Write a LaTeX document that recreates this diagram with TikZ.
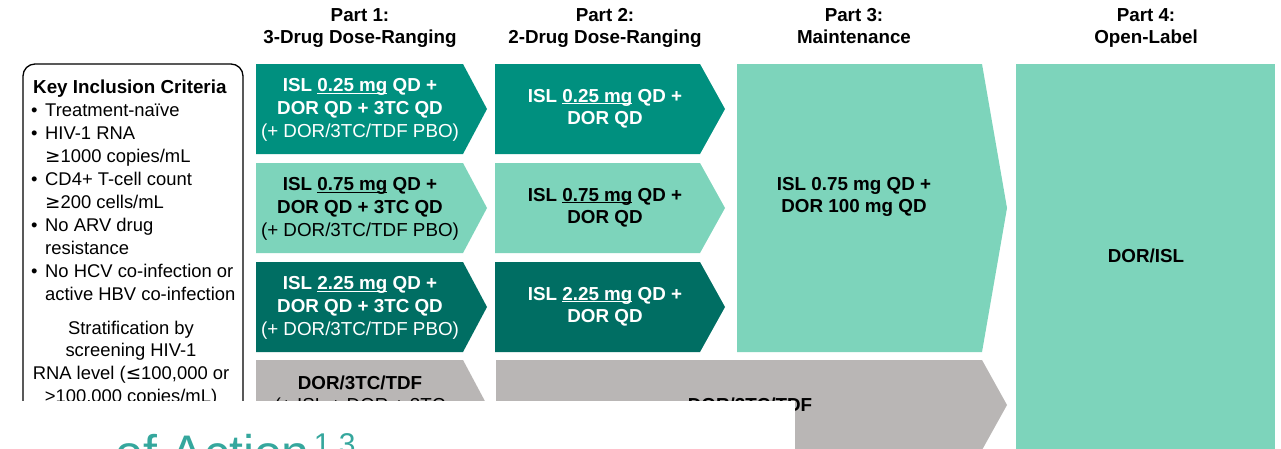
\documentclass[tikz,border=0pt]{standalone}
\usepackage{fontspec}
\setmainfont{Liberation Sans}
\newfontfamily\symfont{DejaVu Sans}
\definecolor{tealA}{HTML}{00907F}
\definecolor{tealB}{HTML}{7DD4BB}
\definecolor{tealC}{HTML}{006E63}
\definecolor{grayA}{HTML}{B9B6B5}
\definecolor{titleteal}{HTML}{35A79D}
\newcommand{\chevfill}[7]{% color, x0, y0, x1, xt, y1, name
  \fill[#1] (#2,#3) -- (#4,#3) -- (#5,{(#3+#6)/2}) -- (#4,#6) -- (#2,#6) -- cycle;
  \coordinate (#7) at ({(#2+#4)/2},{(#3+#6)/2});}
\newcommand{\dul}[1]{\begingroup\setbox0\hbox{#1}\rlap{\rule[-2.3pt]{\wd0}{1.2pt}}\box0\endgroup}
\begin{document}
\begin{tikzpicture}[x=1pt,y=-1pt,
  txt/.style={font=\fontsize{18.8}{22.8}\selectfont, align=center, inner sep=0pt},
  btxt/.style={txt, font=\fontsize{18.8}{22.8}\selectfont\bfseries},
  crit/.style={font=\fontsize{18.4}{22.8}\selectfont, inner sep=0pt, anchor=base west},
]
\useasboundingbox (0,0) rectangle (1281,448);
\fill[white] (0,0) rectangle (1281,448);

% headers
\node[btxt] (h1) at (360,28) {\strut Part 1:\\3-Drug Dose-Ranging\strut};
\node[btxt] (h2) at (605,28) {\strut Part 2:\\2-Drug Dose-Ranging\strut};
\node[btxt] (h3) at (854,28) {\strut Part 3:\\Maintenance\strut};
\node[btxt] (h4) at (1146,28) {\strut Part 4:\\Open-Label\strut};

% criteria box
\draw[line width=1.3pt, rounded corners=12pt] (23,64) -- (243,64) -- (243,460) -- (23,460) -- cycle;
\node[crit, font=\fontsize{18.8}{22.8}\selectfont\bfseries] (k0) at (33,93) {Key Inclusion Criteria};
\node[crit] (k1) at (31,116) {•};
\node[crit] (k1t) at (45,116) {Treatment-naïve};
\node[crit] (k2) at (31,139) {•};
\node[crit] (k2t) at (45,139) {HIV-1 RNA};
\node[crit] (k2u) at (45,162) {{\symfont ≥}1000 copies/mL};
\node[crit] (k3) at (31,185) {•};
\node[crit] (k3t) at (45,185) {CD4+ T-cell count};
\node[crit] (k3u) at (45,208) {{\symfont ≥}200 cells/mL};
\node[crit] (k4) at (31,231) {•};
\node[crit] (k4t) at (45,231) {No ARV drug};
\node[crit] (k4u) at (45,254) {resistance};
\node[crit] (k5) at (31,277) {•};
\node[crit] (k5t) at (45,277) {No HCV co-infection or};
\node[crit] (k5u) at (45,300) {active HBV co-infection};
\node[txt, anchor=north, font=\fontsize{18.4}{22.8}\selectfont] (strat) at (131,318) {\strut Stratification by\\screening HIV-1\\RNA level ({\symfont ≤}100,000 or\\>100,000 copies/mL)\strut};

% Part 1
\chevfill{tealA}{256}{64}{463}{487}{154}{p1a}
\chevfill{tealB}{256}{163}{463}{487}{253}{p1b}
\chevfill{tealC}{256}{262}{463}{487}{352}{p1c}
\chevfill{grayA}{256}{360}{463}{487}{450}{p1d}
\node[txt, text=white] (t1a) at (360,110) {\strut\textbf{ISL \dul{0.25 mg} QD +}\\\textbf{DOR QD + 3TC QD}\\(+ DOR/3TC/TDF PBO)\strut};
\node[txt, text=black] (t1b) at (360,209) {\strut\textbf{ISL \dul{0.75 mg} QD +}\\\textbf{DOR QD + 3TC QD}\\(+ DOR/3TC/TDF PBO)\strut};
\node[txt, text=white] (t1c) at (360,308) {\strut\textbf{ISL \dul{2.25 mg} QD +}\\\textbf{DOR QD + 3TC QD}\\(+ DOR/3TC/TDF PBO)\strut};
\node[txt, text=black, anchor=north] (t1d) at (360,373) {\strut\textbf{DOR/3TC/TDF}\\(+ ISL + DOR + 3TC\strut};

% Part 2
\chevfill{tealA}{495}{64}{700}{725}{154}{p2a}
\chevfill{tealB}{495}{163}{700}{725}{253}{p2b}
\chevfill{tealC}{495}{262}{700}{725}{352}{p2c}
\node[btxt, text=white] (t2a) at (605,109) {\strut ISL \dul{0.25 mg} QD +\\DOR QD\strut};
\node[btxt, text=black] (t2b) at (605,208) {\strut ISL \dul{0.75 mg} QD +\\DOR QD\strut};
\node[btxt, text=white] (t2c) at (605,307) {\strut ISL \dul{2.25 mg} QD +\\DOR QD\strut};

% Part 3
\chevfill{tealB}{737}{64}{982}{1007}{352}{p3}
\chevfill{grayA}{496}{360}{982}{1007}{450}{p3d}
\node[btxt] (t3) at (854,197) {\strut ISL 0.75 mg QD +\\DOR 100 mg QD\strut};
\node[btxt] (t3d) at (750,405) {DOR/3TC/TDF};

% Part 4
\fill[tealB] (1016,64) rectangle (1275,452);
\node[btxt] (t4) at (1146,256) {DOR/ISL};

% overlay
\fill[white] (0,401) rectangle (795,452);
\begin{scope}
\clip (0,401) rectangle (795,448);
\node[anchor=base west, inner sep=0pt, text=titleteal, font=\fontsize{50}{50}\selectfont] (ov) at (115,470) {of Action\hspace{4pt}\raisebox{15.5pt}{\fontsize{30}{30}\selectfont 1,3}};
\end{scope}
\end{tikzpicture}
\end{document}
